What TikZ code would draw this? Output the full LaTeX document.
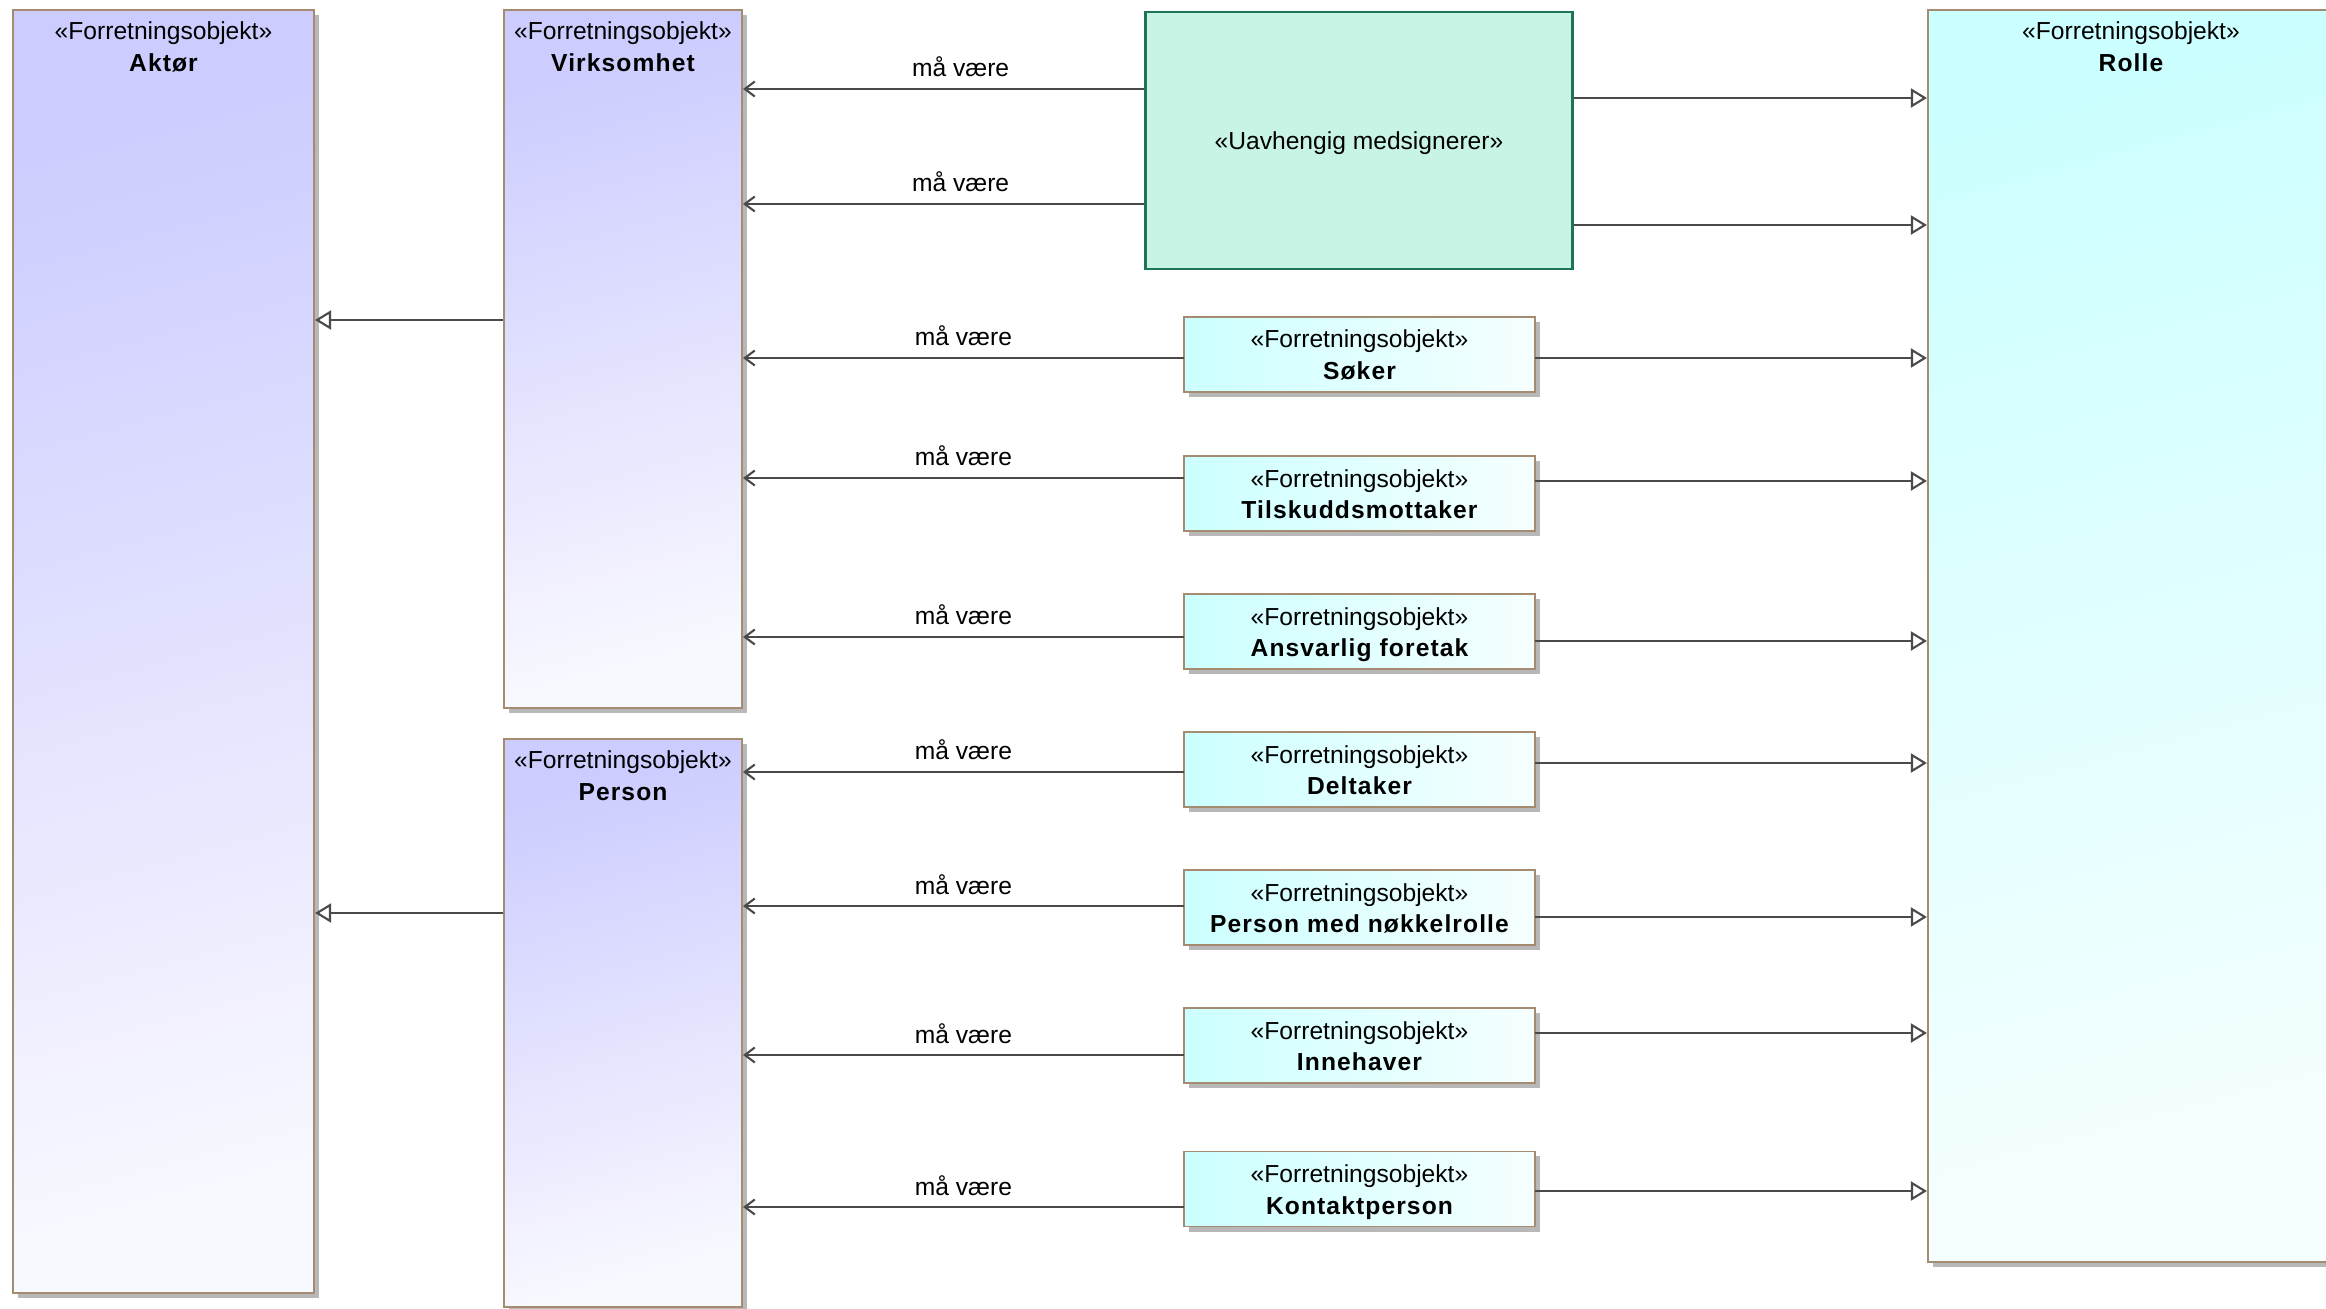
\documentclass[tikz,border=0pt]{standalone}
\usepackage{fontspec}
\setmainfont{Liberation Sans}
\newfontfamily\namefont{Liberation Sans}[LetterSpace=4.5]
\usepackage{xcolor}
\usepackage{tikz}
\usetikzlibrary{arrows.meta}
\usetikzlibrary{shadows}
\usetikzlibrary{positioning}

\definecolor{lavtop}{HTML}{CCCCFF}
\definecolor{lavbot}{HTML}{F8F8FF}
\definecolor{cyantop}{HTML}{CCFFFF}
\definecolor{cyanbot}{HTML}{F6FFFF}
\definecolor{mint}{HTML}{C8F4E6}
\definecolor{mintline}{HTML}{1F7458}
\definecolor{boxline}{HTML}{A58B70}
\definecolor{conline}{HTML}{4A4A4A}

\begin{document}
\begin{tikzpicture}[x=0.01cm,y=-0.01cm,
  every node/.style={font=\fontsize{7}{8.4}\selectfont},
  obj/.style={draw=boxline,line width=0.55pt,rectangle,inner sep=0pt,
    drop shadow={shadow xshift=0.05cm,shadow yshift=-0.05cm,fill=black!28,opacity=1}},
  actor/.style={obj,top color=lavtop,bottom color=lavbot,shading angle=15},
  role/.style={obj,top color=cyantop,bottom color=cyanbot,shading angle=15},
  sub/.style={obj,outer sep=0pt,left color=cyantop,right color=cyanbot,minimum width=3.51cm,minimum height=0.75cm},
  stereo/.style={anchor=base,yshift=-0.31cm},
  objname/.style={anchor=base,yshift=-0.625cm,font=\fontsize{7}{8.4}\selectfont\namefont\bfseries},
  bizobj/.style={label={[stereo]north:«Forretningsobjekt»},label={[objname]north:#1}},
  assoc/.style={draw=conline,line width=0.6pt,-{Straight Barb[length=0.1cm,width=0.15cm]}},
  gen/.style={draw=conline,line width=0.6pt,-{Triangle[open,length=0.16cm,width=0.19cm]}},
  must/.style={anchor=base,yshift=0.12cm}]
        \useasboundingbox (0,0) rectangle (2326,1309);
        \clip (0,0) rectangle (2326,1309);
        % actors
        \node[actor,bizobj=Aktør,minimum width=3.01cm,minimum height=12.83cm] (aktor) at (163.5,651.5) {};
        \node[actor,bizobj=Virksomhet,minimum width=2.38cm,minimum height=6.98cm] (virk) at (623,359) {};
        \node[actor,bizobj=Person,minimum width=2.38cm,minimum height=5.68cm] (person) at (623,1023) {};
        % roles
        \node[role,bizobj=Rolle,minimum width=4.06cm,minimum height=12.52cm] (rolle) at (2131,636) {};
        \node[draw=mintline,fill=mint,line width=0.8pt,minimum width=4.26cm,minimum height=2.57cm,
          label={[yshift=-0.03cm]center:«Uavhengig medsignerer»}] (uavh) at (1359,140.5) {};
        \node[sub,bizobj=Søker] (soker) at (1359.5,354.5) {};
        \node[sub,bizobj=Tilskuddsmottaker,below=0.64cm of soker] (tilsk) {};
        \node[sub,bizobj=Ansvarlig foretak,below=0.63cm of tilsk] (ansv) {};
        \node[sub,bizobj=Deltaker,below=0.63cm of ansv] (delt) {};
        \node[sub,bizobj=Person med nøkkelrolle,below=0.63cm of delt] (pmn) {};
        \node[sub,bizobj=Innehaver,below=0.63cm of pmn] (inneh) {};
        \node[sub,bizobj=Kontaktperson,below=0.68cm of inneh] (kontakt) {};
        % må være
        \draw[assoc] (uavh.west|-0,89) -- node[must,pos=0.458] {må være} (virk.east|-0,89);
        \draw[assoc] (uavh.west|-0,204) -- node[must,pos=0.458] {må være} (virk.east|-0,204);
        \draw[assoc] (soker.west|-0,358) -- node[must] {må være} (virk.east|-0,358);
        \draw[assoc] (tilsk.west|-0,478) -- node[must] {må være} (virk.east|-0,478);
        \draw[assoc] (ansv.west|-0,637) -- node[must] {må være} (virk.east|-0,637);
        \draw[assoc] (delt.west|-0,772) -- node[must] {må være} (person.east|-0,772);
        \draw[assoc] (pmn.west|-0,906) -- node[must] {må være} (person.east|-0,906);
        \draw[assoc] (inneh.west|-0,1055) -- node[must] {må være} (person.east|-0,1055);
        \draw[assoc] (kontakt.west|-0,1207) -- node[must] {må være} (person.east|-0,1207);
        % generalisations
        \draw[gen] (uavh.east|-0,98) -- (rolle.west|-0,98);
        \draw[gen] (uavh.east|-0,225) -- (rolle.west|-0,225);
        \draw[gen] (soker.east|-0,358) -- (rolle.west|-0,358);
        \draw[gen] (tilsk.east|-0,481) -- (rolle.west|-0,481);
        \draw[gen] (ansv.east|-0,641) -- (rolle.west|-0,641);
        \draw[gen] (delt.east|-0,763) -- (rolle.west|-0,763);
        \draw[gen] (pmn.east|-0,917) -- (rolle.west|-0,917);
        \draw[gen] (inneh.east|-0,1033) -- (rolle.west|-0,1033);
        \draw[gen] (kontakt.east|-0,1191) -- (rolle.west|-0,1191);
        \draw[gen] (virk.west|-0,320) -- (aktor.east|-0,320);
        \draw[gen] (person.west|-0,913) -- (aktor.east|-0,913);
      \end{tikzpicture}
\end{document}
